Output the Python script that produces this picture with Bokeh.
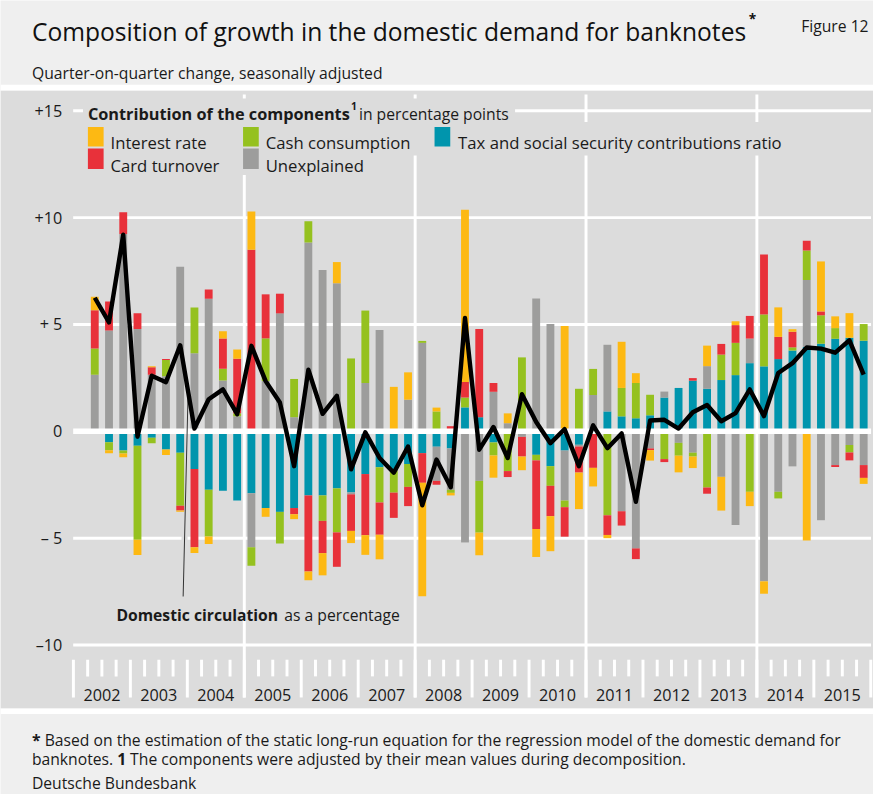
from bokeh.plotting import figure
from bokeh.models import Range1d, Label, ColumnDataSource
from bokeh.embed import file_html
from bokeh.resources import INLINE
from bokeh.core.properties import value

# ---------------- data (2002Q2 .. 2015Q4), percentage points ----------------
years = list(range(2002, 2016))
quarters = [f"{y} Q{q}" for y in years for q in range(1, 5)][1:]

tax = [0, -0.51, -0.90, -0.67, -0.30, -0.85, -1.00, -1.76, -2.73, -2.78, -3.24,
       -2.90, -3.59, -3.77, -3.59, -3.00, -3.00, -2.67, -2.86, -2.00, -1.68, -1.83, -1.53,
       -1.02, -0.72, -0.80, 1.12, 0.66, -0.52, 0, 0, -1.10, -1.63, -0.90, -0.63,
       0.15, 0.93, 0.70, 0.61, 0.75, 1.58, 2.03, 2.37, 1.99, 2.40, 2.63, 3.19,
       3.04, 3.38, 3.78, 3.95, 4.10, 4.33, 4.38, 4.24]
unexplained = [2.65, 4.72, 9.23, 4.79, 2.65, 2.58, 7.70, 3.65, 6.20, 2.38, 0.70,
               -2.52, 2.35, 5.52, 0.66, 8.84, 7.55, 6.93, -0.09, 2.26, 4.74, 0, 1.48,
               4.14, -1.60, -1.94, -5.20, -2.32, 1.85, 0.38, -0.26, 6.21, 5.02, -2.34, -0.08,
               1.55, 3.12, -3.74, -5.48, -0.80, 0.28, -0.54, -1.00, 1.06, -2.13, -4.38, 1.15,
               -7.02, -2.83, -1.64, 3.13, -4.16, -1.58, -0.64, -1.58]
cash = [1.22, -0.38, -0.14, -4.40, -0.26, 0.76, -2.48, 2.14, -2.19, 0.55, 0.15,
        -0.87, 2.00, -1.48, 1.79, 0.99, -1.19, -2.06, 3.41, 3.39, -1.65, -1.04, -1.07,
        0.09, 0.93, -0.14, 0.46, -2.42, -0.61, -1.86, 3.46, -0.26, -0.92, -0.31, 1.99,
        1.22, -3.93, 1.33, 1.65, 0.96, -1.30, -0.60, -0.18, -2.63, 1.19, 1.51, -2.83,
        2.43, -0.31, 0.15, 1.38, 1.33, 0.50, -0.35, 0.78]
card = [1.79, 1.35, 1.02, 0.73, 0.35, 0.05, -0.23, -3.67, 0.44, 1.41, 2.55,
        8.50, 2.06, 0.92, -0.29, -3.56, -1.51, -1.61, -1.71, -2.86, -1.51, -1.18, -0.90,
        -1.39, -0.18, 0.24, 0.73, 4.13, 0.41, -0.28, -0.92, -3.21, -1.42, -1.38, -1.22,
        -1.71, -0.92, -0.67, -0.50, -0.08, -0.14, 0, 0.12, -0.29, 0.50, 0.83, 1.06,
        2.80, 1.04, 0.73, 0.46, 0.18, -0.09, -0.37, -0.60]
interest = [0.64, -0.14, -0.17, -0.72, 0.05, -0.26, -0.05, -0.26, -0.35, 0.34, 0.43,
            1.79, -0.41, 0, -0.23, -0.41, -1.04, 0.99, -0.57, -0.92, -1.15, 2.08, 1.28,
            -5.31, 0.18, -0.12, 8.06, -1.06, -1.04, 0.46, -0.64, -1.31, -1.64, 4.93, -1.71,
            -0.87, -0.15, 2.16, 0.46, -0.49, 0, -0.78, -0.54, 0.96, -1.58, 0.18, -0.67,
            -0.58, 1.38, 0.12, -5.11, 2.34, 0.55, 1.15, -0.28]
circulation = [6.25, 5.10, 9.20, -0.25, 2.60, 2.30, 4.03, 0.13, 1.50, 1.96, 0.80,
               4.00, 2.35, 1.35, -1.63, 2.88, 0.82, 1.66, -1.78, -0.05, -1.25, -1.94, -0.71,
               -3.46, -1.32, -2.62, 5.30, -0.86, 0.20, -1.25, 1.74, 0.44, -0.56, 0.10, -1.63,
               0.28, -0.79, -0.10, -3.30, 0.51, 0.54, 0.13, 0.89, 1.23, 0.47, 0.85, 1.96,
               0.71, 2.73, 3.19, 3.92, 3.87, 3.68, 4.26, 2.65]

y_ticks = [15, 10, 5, 0, -5, -10]
y_tick_labels = ["+15", "+10", "+ 5", "0", "\u2013 5", "\u201310"]

series_names = ["Interest rate", "Card turnover", "Cash consumption", "Unexplained",
                "Tax and social security contributions ratio"]

# ---------------- styling ----------------
ORANGE, RED, GREEN, TEAL, GREY = "#fdb913", "#e8313a", "#95c11f", "#0095ad", "#9d9d9c"
PANEL, PAGE, TXT = "#dcdcdc", "#efefef", "#1a1a1a"
FONT = "Open Sans"
W, H = 873, 794
S = W / 889.0

def fs(px):
    return f"{px * S:.1f}px"

# reference-pixel -> data coordinate helpers (quarter index / percentage points)
def X(px):
    return (px - 81.5) / 14.5

def Y(py):
    return (439.5 - py) / 21.8

p = figure(width=W, height=H, output_backend="svg", toolbar_location=None,
           x_range=Range1d(X(0), X(889)), y_range=Range1d(Y(810), Y(0)),
           min_border=0, x_axis_location=None, y_axis_location=None, title=None,
           background_fill_color=PAGE, border_fill_color=PAGE, outline_line_color=None)
p.xgrid.grid_line_color = None
p.ygrid.grid_line_color = None

# backgrounds
p.quad(left=[X(0)] * 2, right=[X(889)] * 2, bottom=[Y(92), Y(728)], top=[Y(86), Y(722)],
       fill_color="white", line_color=None)
p.quad(left=X(0), right=X(889), bottom=Y(722), top=Y(92), fill_color=PANEL, line_color=None)

# horizontal grid lines
grid_vals = [v for v in y_ticks if v != 0]
p.segment(x0=[X(74)] * len(grid_vals), x1=[X(886.5)] * len(grid_vals), y0=grid_vals, y1=grid_vals,
          line_color="white", line_width=3 * S)

# x-axis ticks (quarter boundaries) and year separators
n_q = 4 * len(years)
qb = [k - 0.5 for k in range(n_q + 1)]
minor = [b for k, b in enumerate(qb) if k % 4 != 0]
major = [b for k, b in enumerate(qb) if k % 4 == 0]
p.segment(x0=minor, x1=minor, y0=[Y(672.5)] * len(minor), y1=[Y(689.5)] * len(minor),
          line_color="white", line_width=3 * S)
p.segment(x0=major, x1=major, y0=[Y(672.5)] * len(major), y1=[Y(711)] * len(major),
          line_color="white", line_width=3 * S)
big = [b for k, b in enumerate(qb) if k % 12 == 0 and 0 < k < n_q]
p.segment(x0=big, x1=big, y0=[Y(96)] * len(big), y1=[Y(711)] * len(big),
          line_color="white", line_width=3 * S)

# legend background boxes (hide grid lines behind legend text)
p.quad(left=[X(84), X(84), X(84)], right=[X(524), X(808), X(376)],
       top=[Y(100), Y(124), Y(150)], bottom=[Y(124), Y(158), Y(178)],
       fill_color=PANEL, line_color=None)

# stacked bars: positive and negative parts stacked separately
xs = list(range(1, len(quarters) + 1))
comps = [(tax, TEAL), (unexplained, GREY), (cash, GREEN), (card, RED), (interest, ORANGE)]
pos = [0.0] * len(xs)
neg = [0.0] * len(xs)
for vals, col in comps:
    bottoms, tops = [], []
    for j, v in enumerate(vals):
        if v >= 0:
            b = pos[j]; t = b + v; pos[j] = t
        else:
            b = neg[j]; t = b + v; neg[j] = t
        bottoms.append(b); tops.append(t)
    src = ColumnDataSource(dict(x=xs, bottom=bottoms, top=tops))
    p.vbar(x="x", bottom="bottom", top="top", width=8 / 14.5, source=src,
           fill_color=col, line_color=None)

# zero line
p.segment(x0=[X(74)], x1=[X(886.5)], y0=[0], y1=[0], line_color="white", line_width=5.5 * S)

# annotation leader line with halo
p.line(x=[X(186.4), X(187.8)], y=[Y(592), Y(532)], line_color=PANEL, line_width=6)
p.line(x=[X(186), X(191)], y=[Y(608), Y(402)], line_color="#333333", line_width=1)

# domestic circulation line
p.line(x=xs, y=circulation, line_color="black", line_width=4.5 * S, line_join="round")

# y tick labels
p.text(x=[X(63)] * len(y_ticks), y=y_ticks, text=y_tick_labels, text_align="right",
       text_baseline="middle", text_font=value(FONT), text_font_size=value(fs(16.5)),
       text_color=TXT)
# year labels
p.text(x=[4 * k + 1.5 for k in range(len(years))], y=[Y(709)] * len(years),
       text=[str(y) for y in years], text_align="center", text_baseline="alphabetic",
       text_font=value(FONT), text_font_size=value(fs(16.5)), text_color=TXT)

# legend
sq_l = [X(89), X(89), X(247), X(247), X(442)]
sq_top = [Y(129), Y(151), Y(129), Y(151), Y(129)]
sq_bot = [Y(149), Y(172), Y(149), Y(172), Y(149)]
sq_col = [ORANGE, RED, GREEN, GREY, TEAL]
p.quad(left=sq_l, right=[v + 16 / 14.5 for v in sq_l], top=sq_top, bottom=sq_bot,
       fill_color=sq_col, line_color=None)
lx = [X(112), X(112), X(270), X(270), X(466)]
ly = [Y(145), Y(168), Y(145), Y(168), Y(145)]
p.text(x=lx, y=ly, text=series_names, text_align="left", text_baseline="alphabetic",
       text_font=value(FONT), text_font_size=value(fs(17)), text_color=TXT)

def lab(x, y, text, size, bold=False, align="left", color=TXT, baseline="alphabetic"):
    p.add_layout(Label(x=x, y=y, text=text, text_font=FONT, text_font_size=fs(size),
                       text_font_style="bold" if bold else "normal", text_color=color,
                       text_align=align, text_baseline=baseline))

lab(X(89), Y(116), "Contribution of the components", 16.6, bold=True)
lab(X(357), Y(108), "1", 10.5, bold=True)
lab(X(365), Y(116), "in percentage points", 16)

lab(X(118), Y(627), "Domestic circulation", 16, bold=True)
lab(X(289), Y(627), "as a percentage", 16)

# header
lab(X(32), Y(32), "Composition of growth in the domestic demand for banknotes", 25, color="#111111")
lab(X(762), Y(18), "*", 14, bold=True, color="#111111")
lab(X(884), Y(26), "Figure 12", 16, align="right")
lab(X(32), Y(74), "Quarter-on-quarter change, seasonally adjusted", 16)

# footnotes
lab(X(32), Y(754), "*", 16, bold=True)
lab(X(45), Y(754), "Based on the estimation of the static long-run equation for the regression model of the domestic demand for", 16)
lab(X(32), Y(774), "banknotes.", 16)
lab(X(119), Y(774), "1", 16, bold=True)
lab(X(132), Y(774), "The components were adjusted by their mean values during decomposition.", 16)
lab(X(32), Y(798), "Deutsche Bundesbank", 16)

open("out.html", "w").write(file_html(p, INLINE))
